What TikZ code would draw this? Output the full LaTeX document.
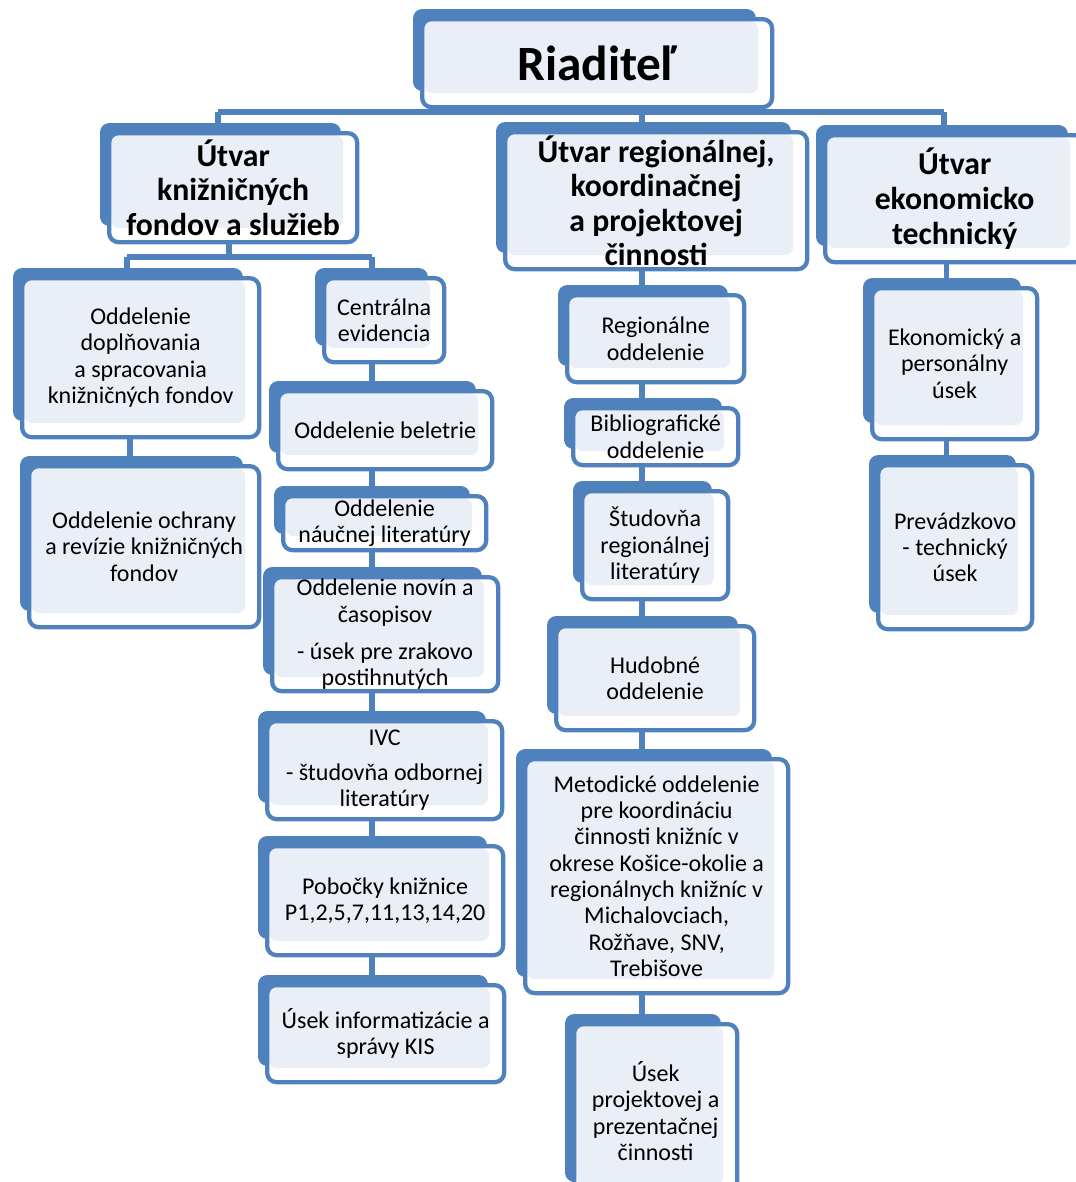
\documentclass[tikz,border=0pt]{standalone}
\usepackage{fontspec}
\setmainfont{Carlito}
\pgfdeclarelayer{background}
\pgfsetlayers{background,main}
\definecolor{boxblue}{HTML}{4F81BD}
\definecolor{lightfill}{HTML}{E9EEF7}
\tikzset{
  front/.style={draw=boxblue, line width=3.2pt, fill=white, rounded corners=7pt,
    inner sep=0pt, align=center, text=black,
    path picture={\fill[lightfill, rounded corners=6pt]
      ([xshift=1.5pt,yshift=-1.5pt]path picture bounding box.north west) rectangle
      ([xshift=-10.5pt,yshift=10.5pt]path picture bounding box.south east);}},
  backbox/.style={fill=boxblue, rounded corners=7pt},
  conn/.style={draw=boxblue, line width=4pt},
  reg/.style={font=\fontsize{18}{19.7}\selectfont},
  ttl/.style={font=\fontsize{23.8}{25.9}\selectfont\bfseries},
  top/.style={font=\fontsize{37}{42}\selectfont\bfseries}
}
% name, x0, y0, x1, y1 (pixels, y downwards), style, text
\newcommand\obox[7]{%
  \fill[backbox] ({#2-7},{-#3+8}) rectangle ({#4-14},{-#5+14});
  \node[front, #6, minimum width={(#4-#2)*0.75pt}, minimum height={(#5-#3)*0.75pt},
        anchor=north west] (#1) at (#2,-#3) {#7};
}
\begin{document}
\begin{tikzpicture}[x=0.75pt,y=0.75pt]
\useasboundingbox (0,0) rectangle (1075,-1182);

\obox{riad}{420}{17}{770}{105}{top}{Riaditeľ}
\obox{uk}{107}{131}{355}{240}{ttl}{Útvar\\knižničných\\fondov a služieb}
\obox{ur}{503}{130}{805}{267}{ttl}{Útvar regionálnej,\\koordinačnej\\a projektovej\\činnosti}
\obox{ue}{823}{133}{1082}{260}{ttl}{Útvar\\ekonomicko\\technický}

\obox{dop}{20}{276}{257}{435}{reg}{Oddelenie\\doplňovania\\a spracovania\\knižničných fondov}
\obox{och}{27}{464}{257}{625}{reg}{Oddelenie ochrany\\a revízie knižničných\\fondov}

\obox{cen}{322}{276}{442}{360}{reg}{Centrálna\\evidencia}
\obox{bel}{276}{389}{490}{467}{reg}{Oddelenie beletrie}
\obox{nau}{281}{494}{484}{548}{reg}{Oddelenie\\náučnej literatúry}
\obox{nov}{270}{575}{496}{689}{reg}{Oddelenie novín a\\časopisov\\[8pt] - úsek pre zrakovo\\postihnutých}
\obox{ivc}{265}{719}{500}{817}{reg}{IVC\\[7pt] - študovňa odbornej\\literatúry}
\obox{pob}{265}{844}{501}{953}{reg}{Pobočky knižnice\\P1,2,5,7,11,13,14,20}
\obox{inf}{265}{983}{502}{1080}{reg}{Úsek informatizácie a\\správy KIS}

\obox{rgo}{565}{293}{742}{380}{reg}{Regionálne\\oddelenie}
\obox{bib}{571}{406}{736}{463}{reg}{Bibliografické\\oddelenie}
\obox{stu}{580}{489}{726}{597}{reg}{Študovňa\\regionálnej\\literatúry}
\obox{hud}{554}{624}{752}{728}{reg}{Hudobné\\oddelenie}
\obox{met}{523}{757}{786}{991}{reg}{Metodické oddelenie\\pre koordináciu\\činnosti knižníc v\\okrese Košice-okolie a\\regionálnych knižníc v\\Michalovciach,\\Rožňave, SNV,\\Trebišove}
\obox{prj}{572}{1022}{735}{1196}{reg}{Úsek\\projektovej a\\prezentačnej\\činnosti}

\obox{eko}{870}{286}{1035}{437}{reg}{Ekonomický a\\personálny\\úsek}
\obox{pre}{876}{463}{1030}{627}{reg}{Prevádzkovo\\- technický\\úsek}

\coordinate (busL) at (218,-112);
\coordinate (busM) at (642,-112);
\coordinate (busR) at (944,-112);
\coordinate (subL) at (127,-257);
\coordinate (subM) at (229,-257);
\coordinate (subR) at (372,-257);
\coordinate (colA) at (130,0);

\begin{pgfonlayer}{background}
  \draw[conn] ([xshift=-9pt]riad.south) -- ([xshift=-9pt]riad.south |- busL);
  \draw[conn] (busL) -- (busR);
  \draw[conn] (busL) -- (busL |- uk.north);
  \draw[conn] (busM) -- (busM |- ur.north);
  \draw[conn] (busR) -- (busR |- ue.north);
  % left branch
  \draw[conn] (subM |- uk.south) -- (subM);
  \draw[conn] (subL) -- (subR);
  \draw[conn] (subL) -- (subL |- dop.north);
  \draw[conn] (colA |- dop.south) -- (colA |- och.north);
  \draw[conn] (subR) -- (subR |- inf.north);
  % regional column
  \draw[conn] (busM |- ur.south) -- (busM |- prj.north);
  % economic column
  \draw[conn] ([xshift=-6pt]ue.south) -- ([xshift=-6pt]ue.south |- pre.north);
\end{pgfonlayer}
\end{tikzpicture}
\end{document}
